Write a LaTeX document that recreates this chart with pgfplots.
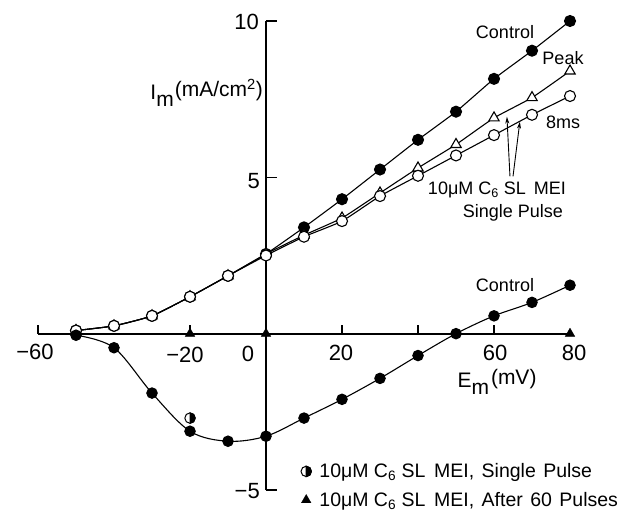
\documentclass[border=0pt]{standalone}
\usepackage{pgfplots}
\pgfplotsset{compat=1.18}
\usepackage{fontspec}
\setmainfont{Liberation Sans}
\usetikzlibrary{arrows.meta}
\DeclareRobustCommand{\mei}{10μM C\textsubscript{6} SL\hspace{0.45em}MEI}
\DeclareRobustCommand{\ws}{\hspace{0.38em}}
\pgfdeclareplotmark{halfcirc}{%
  \pgfpathcircle{\pgfpointorigin}{\pgfplotmarksize}%
  \pgfsetfillcolor{white}\pgfusepathqfillstroke
  \pgfpathmoveto{\pgfqpoint{0pt}{\pgfplotmarksize}}%
  \pgfpatharc{90}{-90}{\pgfplotmarksize}%
  \pgfpathclose
  \pgfsetfillcolor{black}\pgfusepathqfillstroke
}
\begin{document}
\begin{tikzpicture}[x=1pt,y=1pt]
\path[use as bounding box] (0,0) rectangle (627,-513);
\begin{axis}[
  scale only axis, width=532pt, height=469pt,
  at={(38pt,-490pt)}, anchor=south west,
  xmin=-60, xmax=80, ymin=-5, ymax=10,
  axis lines=none, clip=false,
  legend style={draw=none, fill=none, font=\fontsize{19.5}{22}\selectfont,
    at={(0.494,0.061)}, anchor=north west, row sep=9pt, column sep=6pt, inner sep=0pt,
    nodes={inner sep=2pt}},
  legend cell align=left,
]
% axes
\draw[line width=1.8pt] (axis cs:-60,0) -- (axis cs:80,0);
\draw[line width=1.8pt] (axis cs:0,-5) -- (axis cs:0,10);
\pgfplotsinvokeforeach{-60,-20,20,40,60}{
  \draw[line width=1.6pt] (axis cs:#1,0) -- (axis cs:#1,0.29);
}
\pgfplotsinvokeforeach{-5,5,10}{
  \draw[line width=1.6pt] (axis cs:0,#1) -- (axis cs:2.9,#1);
}
% upper control
\addplot[black, line width=1.1pt, smooth, tension=0.3, mark=*, mark size=5.5pt, forget plot]
coordinates {(-50,0.1)(-40,0.25)(-30,0.57)(-20,1.18)(-10,1.85)(0,2.55)(10,3.4)(20,4.3)(30,5.25)(40,6.2)(50,7.1)(60,8.15)(70,9.05)(80,10.0)};
% peak (open triangles)
\addplot[black, line width=1.1pt, smooth, tension=0.3, mark=triangle*, mark size=6pt, mark options={fill=white}, forget plot]
coordinates {(-50,0.1)(-40,0.25)(-30,0.57)(-20,1.18)(-10,1.85)(0,2.55)(10,3.15)(20,3.7)(30,4.5)(40,5.3)(50,6.05)(60,6.9)(70,7.55)(80,8.4)};
% 8 ms (open circles)
\addplot[black, line width=1.1pt, smooth, tension=0.3, mark=*, mark size=5.5pt, mark options={fill=white}, forget plot]
coordinates {(-50,0.1)(-40,0.25)(-30,0.57)(-20,1.18)(-10,1.85)(0,2.5)(10,3.1)(20,3.6)(30,4.4)(40,5.05)(50,5.7)(60,6.35)(70,7.0)(80,7.6)};
% lower control
\addplot[black, line width=1.1pt, smooth, tension=0.55, mark=*, mark size=5.2pt, forget plot]
coordinates {(-50,-0.05)(-40,-0.45)(-30,-1.9)(-20,-3.12)(-10,-3.44)(0,-3.28)(10,-2.7)(20,-2.1)(30,-1.43)(40,-0.7)(50,0.0)(60,0.57)(70,1.0)(80,1.55)};
% single pulse (half-filled)
\addplot[black, line width=1pt, only marks, mark=halfcirc, mark size=5.2pt]
coordinates {(-20,-2.7)};
\addlegendentry{\mei,\ws Single\ws Pulse}
% after 60 pulses (filled triangles)
\addplot[black, only marks, mark=triangle*, mark size=5.5pt]
coordinates {(-20,0)(0,0)(80,0)};
\addlegendentry{\mei,\ws After\ws 60\ws Pulses}
% arrows
\draw[line width=0.9pt, -{Stealth[length=7pt,width=4pt]}] (axis cs:64.2,5.03) -- (axis cs:63.4,6.94);
\draw[line width=0.9pt, -{Stealth[length=7pt,width=4pt]}] (axis cs:65.0,5.03) -- (axis cs:66.8,6.78);
\end{axis}
% tick labels
\begin{scope}[every node/.style={font=\fontsize{22}{26}\selectfont, inner sep=0pt}]
\node at (35,-352) {−60};
\node at (185,-355) {−20};
\node at (248,-354) {0};
\node at (341,-353) {20};
\node at (495,-353) {60};
\node at (574,-353) {80};
\node[anchor=east] at (259,-22) {10};
\node[anchor=east] at (260,-181) {5};
\node[anchor=east] at (260,-491) {−5};
\end{scope}
% annotations
\begin{scope}[every node/.style={font=\fontsize{18}{22}\selectfont, inner sep=0pt}]
\node at (505,-32) {Control};
\node at (563,-58) {Peak};
\node at (563,-122) {8ms};
\node at (497,-190) {\mei};
\node at (513,-213) {Single Pulse};
\node at (505,-285) {Control};
\end{scope}
\begin{scope}[every node/.style={font=\fontsize{21}{24}\selectfont, inner sep=0pt}]
\node[anchor=east] at (263,-93) {I\raisebox{-7pt}{m}\hspace{1pt}\raisebox{3pt}{(mA/cm\textsuperscript{2})}};
\node at (497,-382) {E\raisebox{-7pt}{m}\hspace{2pt}\raisebox{3pt}{(mV)}};
\end{scope}
\end{tikzpicture}
\end{document}
